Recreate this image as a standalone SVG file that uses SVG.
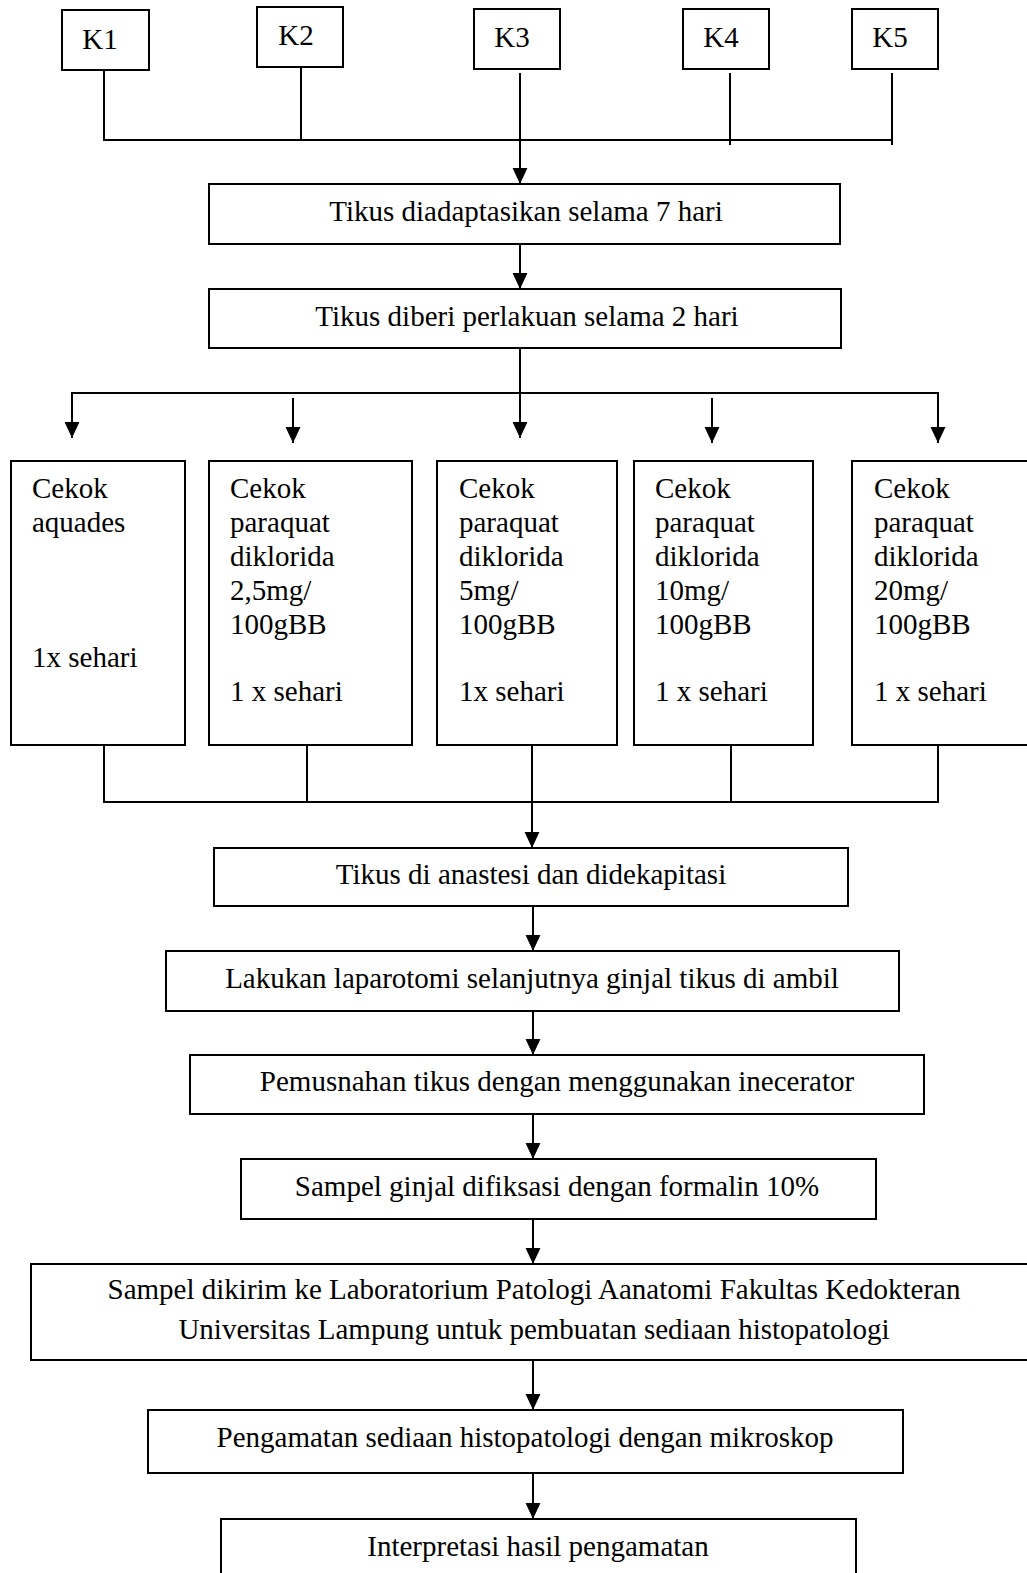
<svg xmlns="http://www.w3.org/2000/svg" width="1027" height="1573" viewBox="0 0 1027 1573">
<style>
.b{fill:#fff;stroke:#000;stroke-width:2}
.c{fill:none;stroke:#000;stroke-width:2}
text{font-family:"Liberation Serif","Times New Roman",serif;font-size:29px;fill:#000}
.m{text-anchor:middle}
</style>
<defs>
<marker id="ah" markerUnits="userSpaceOnUse" markerWidth="16" markerHeight="16" viewBox="0 0 15 14" refX="15" refY="7" orient="auto">
<path d="M0,0 L15,7 L0,14 z" fill="#000"/>
</marker>
</defs>
<rect width="1027" height="1573" fill="#fff"/>
<g id="connectors">
<path class="c" d="M104,70 V140 H892 M301,67 V140 M730,73 V145 M892,73 V145"/>
<path class="c" d="M520,73 V184" marker-end="url(#ah)"/>
<path class="c" d="M520,244 V289" marker-end="url(#ah)"/>
<path class="c" d="M520,348 V438" marker-end="url(#ah)"/>
<path class="c" d="M520,393 H72 V438" marker-end="url(#ah)"/>
<path class="c" d="M520,393 H938 V443" marker-end="url(#ah)"/>
<path class="c" d="M293,398 V443" marker-end="url(#ah)"/>
<path class="c" d="M712,398 V443" marker-end="url(#ah)"/>
<path class="c" d="M104,745 V802 H938 V745 M307,745 V802 M731,745 V802"/>
<path class="c" d="M532,745 V848" marker-end="url(#ah)"/>
<path class="c" d="M533,906 V951" marker-end="url(#ah)"/>
<path class="c" d="M533,1011 V1055" marker-end="url(#ah)"/>
<path class="c" d="M533,1114 V1159" marker-end="url(#ah)"/>
<path class="c" d="M533,1219 V1264" marker-end="url(#ah)"/>
<path class="c" d="M533,1360 V1410" marker-end="url(#ah)"/>
<path class="c" d="M533,1473 V1519" marker-end="url(#ah)"/>
</g>
<g id="k1"><rect class="b" x="62" y="10" width="87" height="60"/><text x="100" y="49" class="m">K1</text></g>
<g id="k2"><rect class="b" x="257" y="7" width="86" height="60"/><text x="296" y="45" class="m">K2</text></g>
<g id="k3"><rect class="b" x="474" y="9" width="86" height="60"/><text x="512" y="47" class="m">K3</text></g>
<g id="k4"><rect class="b" x="683" y="9" width="86" height="60"/><text x="721" y="47" class="m">K4</text></g>
<g id="k5"><rect class="b" x="852" y="9" width="86" height="60"/><text x="890" y="47" class="m">K5</text></g>
<g id="adapt"><rect class="b" x="209" y="184" width="631" height="60"/><text x="526" y="221" class="m">Tikus diadaptasikan selama 7 hari</text></g>
<g id="perlakuan"><rect class="b" x="209" y="289" width="632" height="59"/><text x="527" y="326" class="m">Tikus diberi perlakuan selama 2 hari</text></g>
<g id="g1"><rect class="b" x="11" y="461" width="174" height="284"/>
<text x="32" y="498">Cekok</text><text x="32" y="532">aquades</text><text x="32" y="667">1x sehari</text></g>
<g id="g2"><rect class="b" x="209" y="461" width="203" height="284"/>
<text x="230" y="498">Cekok</text><text x="230" y="532">paraquat</text><text x="230" y="566">diklorida</text><text x="230" y="600">2,5mg/</text><text x="230" y="634">100gBB</text><text x="230" y="701">1 x sehari</text></g>
<g id="g3"><rect class="b" x="437" y="461" width="180" height="284"/>
<text x="459" y="498">Cekok</text><text x="459" y="532">paraquat</text><text x="459" y="566">diklorida</text><text x="459" y="600">5mg/</text><text x="459" y="634">100gBB</text><text x="459" y="701">1x sehari</text></g>
<g id="g4"><rect class="b" x="634" y="461" width="179" height="284"/>
<text x="655" y="498">Cekok</text><text x="655" y="532">paraquat</text><text x="655" y="566">diklorida</text><text x="655" y="600">10mg/</text><text x="655" y="634">100gBB</text><text x="655" y="701">1 x sehari</text></g>
<g id="g5"><rect class="b" x="852" y="461" width="185" height="284"/>
<text x="874" y="498">Cekok</text><text x="874" y="532">paraquat</text><text x="874" y="566">diklorida</text><text x="874" y="600">20mg/</text><text x="874" y="634">100gBB</text><text x="874" y="701">1 x sehari</text></g>
<g id="anastesi"><rect class="b" x="214" y="848" width="634" height="58"/><text x="531" y="884" class="m">Tikus di anastesi dan didekapitasi</text></g>
<g id="laparotomi"><rect class="b" x="166" y="951" width="733" height="60"/><text x="532" y="988" class="m">Lakukan laparotomi selanjutnya ginjal tikus di ambil</text></g>
<g id="pemusnahan"><rect class="b" x="190" y="1055" width="734" height="59"/><text x="557" y="1091" class="m">Pemusnahan tikus dengan menggunakan inecerator</text></g>
<g id="fiksasi"><rect class="b" x="241" y="1159" width="635" height="60"/><text x="557" y="1196" class="m">Sampel ginjal difiksasi dengan formalin 10%</text></g>
<g id="kirim"><rect class="b" x="31" y="1264" width="1010" height="96"/><text x="534" y="1299" class="m">Sampel dikirim ke Laboratorium Patologi Aanatomi Fakultas Kedokteran</text><text x="534" y="1339" class="m">Universitas Lampung untuk pembuatan sediaan histopatologi</text></g>
<g id="pengamatan"><rect class="b" x="148" y="1410" width="755" height="63"/><text x="525" y="1447" class="m">Pengamatan sediaan histopatologi dengan mikroskop</text></g>
<g id="interpretasi"><rect class="b" x="221" y="1519" width="635" height="70"/><text x="538" y="1556" class="m">Interpretasi hasil pengamatan</text></g>
</svg>
